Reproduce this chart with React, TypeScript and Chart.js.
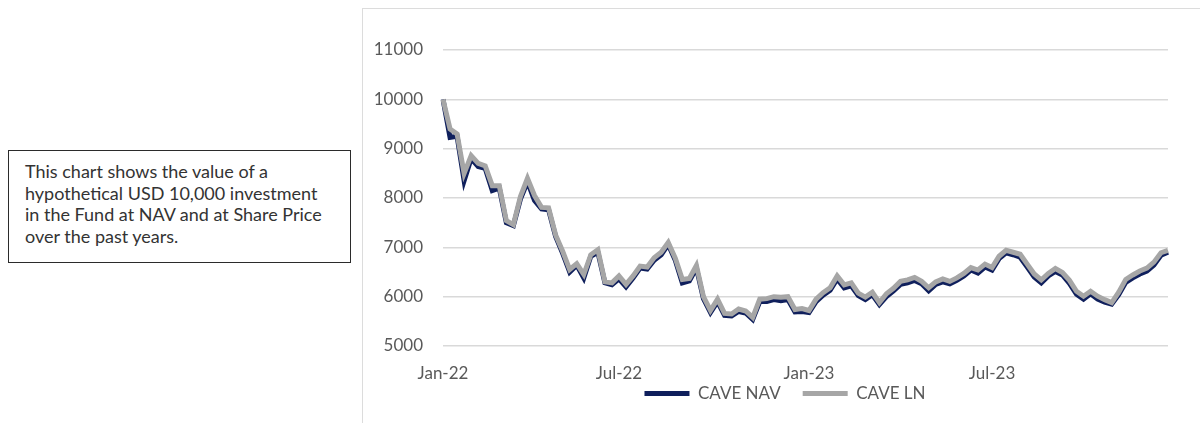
import React, { useEffect, useRef } from "react";
import { Chart, registerables } from "chart.js";

Chart.register(...registerables);

// ---- data ----
const SERIES_NAMES = ["CAVE NAV", "CAVE LN"];
const START_DATE = "2022-01-07"; // first weekly observation (Fridays)
const MONTHS = ["Jan", "Feb", "Mar", "Apr", "May", "Jun", "Jul", "Aug", "Sep", "Oct", "Nov", "Dec"];
const TICK_MONTHS = [0, 6]; // Jan and Jul labels on the date axis
const Y_MIN = 5000;
const Y_MAX = 11000;
const Y_STEP = 1000;

const caveNav = [
  10000, 9230, 9250, 8350, 8800, 8640, 8600, 8150, 8200, 7500,
  7440, 7980, 8330, 7950, 7780, 7760, 7220, 6880, 6500, 6640,
  6380, 6820, 6900, 6280, 6240, 6360, 6200, 6380, 6580, 6560,
  6740, 6850, 7060, 6740, 6280, 6320, 6580, 5960, 5680, 5900,
  5620, 5610, 5700, 5670, 5540, 5900, 5900, 5940, 5920, 5940,
  5690, 5700, 5680, 5900, 6030, 6130, 6360, 6180, 6220, 6020,
  5940, 6040, 5840, 6000, 6120, 6250, 6280, 6330, 6260, 6120,
  6250, 6300, 6260, 6330, 6420, 6540, 6480, 6600, 6540, 6770,
  6890, 6850, 6800, 6600, 6400, 6280, 6420, 6510, 6440, 6270,
  6050, 5950, 6060, 5950, 5890, 5850, 6040, 6290, 6380, 6460,
  6520, 6640, 6840, 6900,
];

const caveLn = [
  10000, 9400, 9300, 8500, 8860, 8700, 8650, 8250, 8250, 7540,
  7460, 8030, 8400, 8050, 7810, 7800, 7250, 6920, 6550, 6670,
  6450, 6850, 6950, 6300, 6280, 6420, 6250, 6420, 6620, 6600,
  6790, 6900, 7100, 6780, 6350, 6370, 6630, 6000, 5720, 5950,
  5660, 5650, 5750, 5710, 5580, 5950, 5960, 6000, 5990, 6000,
  5740, 5760, 5720, 5950, 6080, 6180, 6420, 6240, 6280, 6070,
  5990, 6090, 5880, 6060, 6170, 6310, 6340, 6390, 6310, 6180,
  6300, 6360, 6310, 6380, 6470, 6590, 6540, 6660, 6590, 6820,
  6940, 6900, 6860, 6660, 6460, 6340, 6470, 6570, 6490, 6330,
  6110, 6010, 6110, 6010, 5940, 5880, 6090, 6350, 6440, 6520,
  6580, 6700, 6890, 6940,
];

const NOTE_LINES = [
  "This chart shows the value of a",
  "hypothetical USD 10,000 investment",
  "in the Fund at NAV and at Share Price",
  "over the past years.",
];

// weekly dates for the category axis
const weekDates: Date[] = caveLn.map((_, i) => {
  const d = new Date(START_DATE + "T00:00:00");
  d.setDate(d.getDate() + 7 * i);
  return d;
});
const fmt = (d: Date) => `${MONTHS[d.getMonth()]}-${String(d.getFullYear()).slice(2)}`;
const categories = weekDates.map(fmt);

const FONT = "Lato, 'Open Sans', sans-serif";
const NAVY = "#0f1f5c";
const GREY = "#a6a6a6";
const TEXT = "#595959";

// nudge the legend block to sit where the original legend sits
const legendPlacement = {
  id: "legendPlacement",
  afterLayout(chart: any) {
    const lg = chart.legend;
    if (!lg) return;
    lg.left = 40;
    lg.top -= 21;
    lg.bottom -= 21;
  },
};

export default function App() {
  const ref = useRef<HTMLCanvasElement | null>(null);

  useEffect(() => {
    if (!ref.current) return;
    const chart = new Chart(ref.current, {
      type: "line",
      data: {
        labels: categories,
        datasets: [
          {
            label: SERIES_NAMES[1],
            data: caveLn,
            borderColor: GREY,
            backgroundColor: GREY,
            borderWidth: 5,
            pointRadius: 0,
            tension: 0,
          },
          {
            label: SERIES_NAMES[0],
            data: caveNav,
            borderColor: NAVY,
            backgroundColor: NAVY,
            borderWidth: 5,
            pointRadius: 0,
            tension: 0,
          },
        ],
      },
      options: {
        animation: false,
        responsive: true,
        maintainAspectRatio: false,
        layout: { padding: { top: 42, right: 32, left: 0, bottom: 5 } },
        plugins: {
          tooltip: { enabled: false },
          legend: {
            position: "bottom",
            reverse: true,
            labels: {
              usePointStyle: true,
              pointStyle: "line",
              pointStyleWidth: 45,
              padding: 22,
              color: TEXT,
              font: { family: FONT, size: 17 },
            },
          },
        },
        scales: {
          x: {
            type: "category",
            offset: false,
            grid: { display: false },
            border: { display: false },
            afterFit: (s: any) => {
              s.height = 38;
            },
            ticks: {
              autoSkip: false,
              maxRotation: 0,
              minRotation: 0,
              padding: 9,
              color: TEXT,
              font: { family: FONT, size: 17 },
              callback: (_v: any, i: number) => {
                const d = weekDates[i];
                const prev = weekDates[i - 1];
                if (!d) return null;
                const isNewMonth = !prev || prev.getMonth() !== d.getMonth();
                return isNewMonth && TICK_MONTHS.includes(d.getMonth()) ? categories[i] : null;
              },
            },
          },
          y: {
            min: Y_MIN,
            max: Y_MAX,
            border: { display: false },
            grid: { color: "#d9d9d9", lineWidth: 1.5, drawTicks: false },
            afterFit: (s: any) => {
              s.width = 81;
            },
            ticks: {
              stepSize: Y_STEP,
              padding: 20,
              color: TEXT,
              font: { family: FONT, size: 17 },
              callback: (v: any) => String(v),
            },
          },
        },
      },
      plugins: [legendPlacement],
    });
    return () => chart.destroy();
  }, []);

  return (
    <div
      style={{
        position: "absolute",
        left: 0,
        top: 0,
        width: 1200,
        height: 423,
        overflow: "hidden",
        background: "#fff",
        fontFamily: FONT,
      }}
    >
      <div
        style={{
          position: "absolute",
          left: 8,
          top: 150,
          width: 325,
          height: 101,
          border: "1.5px solid #2b2b2b",
          color: "#333",
          fontSize: 18,
          lineHeight: "21.5px",
          paddingLeft: 16,
          paddingTop: 10,
          boxSizing: "content-box",
        }}
      >
        {NOTE_LINES.map((l, i) => (
          <div key={i} style={{ whiteSpace: "nowrap" }}>
            {l}
          </div>
        ))}
      </div>
      <div
        style={{
          position: "absolute",
          left: 362,
          top: 8,
          width: 860,
          height: 440,
          border: "1px solid #dcdcdc",
        }}
      />
      <div style={{ position: "absolute", left: 362, top: 8, width: 838, height: 430 }}>
        <canvas ref={ref} />
      </div>
    </div>
  );
}
